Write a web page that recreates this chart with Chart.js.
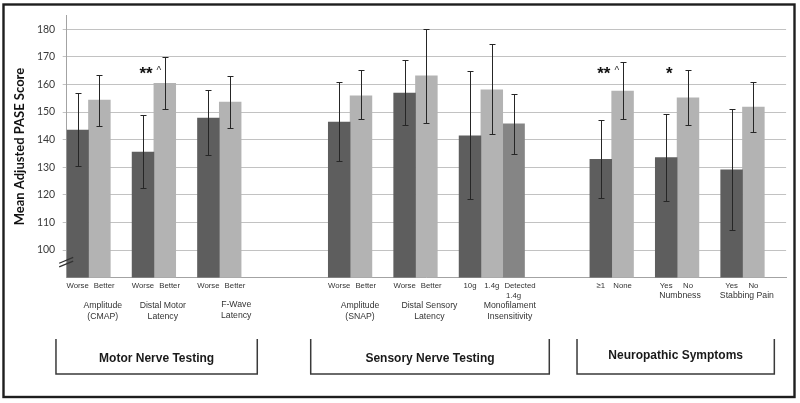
<!DOCTYPE html>
<html>
<head>
<meta charset="utf-8">
<script src="https://cdn.jsdelivr.net/npm/chart.js@4.4.0/dist/chart.umd.min.js"></script>
<style>
html,body{margin:0;padding:0;background:#fff;}
#wrap{position:relative;width:800px;height:403px;}
canvas{display:block;}
</style>
</head>
<body>
<div id="wrap"><canvas id="c" width="800" height="403"></canvas></div>
<script>
// ---------- DATA ----------
const categories = ["Amplitude (CMAP)","Distal Motor Latency","F-Wave Latency","","Amplitude (SNAP)","Distal Sensory Latency","Monofilament Insensitivity","","Symptoms","Numbness","Stabbing Pain"];

const darkValues  = [143.5,135.5,147.8,null,146.4,156.9,141.4,null,132.9,133.5,129.1];
const darkHigh    = [157.0,148.8,158.0,null,160.9,168.8,164.8,null,147.0,149.2,151.2];
const darkLow     = [130.3,122.4,134.5,null,132.1,145.2,118.4,null,119.0,117.9,107.2];

const lightValues = [154.3,160.4,153.6,null,155.9,163.1,158.1,null,157.6,155.2,151.8];
const lightHigh   = [163.4,170.0,163.2,null,165.1,180.2,174.6,null,168.0,165.2,160.8];
const lightLow    = [144.8,151.2,144.2,null,147.4,146.0,142.0,null,147.4,145.2,142.9];

const midValues   = [null,null,null,null,null,null,145.7,null,null,null,null];
const midHigh     = [null,null,null,null,null,null,156.7,null,null,null,null];
const midLow      = [null,null,null,null,null,null,134.7,null,null,null,null];

const darkLabels  = ["Worse","Worse","Worse","","Worse","Worse","10g","","≥1","Yes","Yes"];
const lightLabels = ["Better","Better","Better","","Better","Better","1.4g","","None","No","No"];
const midLabels   = [[],[],[],[],[],[],["Detected","1.4g"],[],[],[],[]];
const categoryNames = [["Amplitude","(CMAP)"],["Distal Motor","Latency"],["F-Wave","Latency"],[],["Amplitude","(SNAP)"],["Distal Sensory","Latency"],["Monofilament","Insensitivity"],[],[],["Numbness"],["Stabbing Pain"]];

const groupTitles = ["Motor Nerve Testing","Sensory Nerve Testing","Neuropathic Symptoms"];
const groupRanges = [[0,2],[4,6],[8,10]];

const yTickLabels = [100,110,120,130,140,150,160,170,180];
const yAxisTitle = "Mean Adjusted PASE Score";

const significance = [
  {cat:1, mark:"**", caret:"^"},
  {cat:8, mark:"**", caret:"^"},
  {cat:9, mark:"*",  caret:""}
];
const SIG_LEVEL = 165;   // value level at which the significance marks sit

// ---------- LAYOUT (not data) ----------
const BOX_EXTENTS = [[-0.164,2.914],[3.731,7.379],[7.803,10.82]]; // in category units
const BOX_TITLE_Y = [359,359,356];
const NAME_NUDGE = [3.4,-2,6,0,-1,3,18,0,0,-8,-6.5];
const NAME_ROW_Y = [306,306,305,306,306,306,306,306,296,296,296];

const COLORS = {dark:'#5e5e5e', light:'#b3b3b3', mid:'#858585'};

const overlay = {
  id:'overlay',
  afterDatasetsDraw(chart){
    const ctx = chart.ctx, xs = chart.scales.x, ys = chart.scales.y, ca = chart.chartArea;
    const m0 = chart.getDatasetMeta(0), m1 = chart.getDatasetMeta(1), m2 = chart.getDatasetMeta(2);
    ctx.save();
    // error bars
    ctx.strokeStyle = '#262626'; ctx.lineWidth = 1;
    [[darkHigh,darkLow,m0],[lightHigh,lightLow,m1],[midHigh,midLow,m2]].forEach(([hi,lo,meta])=>{
      hi.forEach((h,i)=>{
        if(h==null) return;
        const cx = Math.round(meta.data[i].x)+0.5;
        const yt = Math.round(ys.getPixelForValue(h))+0.5, yb = Math.round(ys.getPixelForValue(lo[i]))+0.5;
        ctx.beginPath();
        ctx.moveTo(cx,yt); ctx.lineTo(cx,yb);
        ctx.moveTo(cx-3,yt); ctx.lineTo(cx+3,yt);
        ctx.moveTo(cx-3,yb); ctx.lineTo(cx+3,yb);
        ctx.stroke();
      });
    });
    // axis break marks
    const bx = ca.left, by = ys.getPixelForValue(95.5);
    ctx.strokeStyle = '#333'; ctx.lineWidth = 1.3;
    ctx.beginPath();
    ctx.moveTo(bx-7.5, by+0.8); ctx.lineTo(bx+6.5, by-5);
    ctx.moveTo(bx-7.5, by+4.5); ctx.lineTo(bx+6.5, by-1.3);
    ctx.stroke();
    // significance marks
    const sy = ys.getPixelForValue(SIG_LEVEL);
    significance.forEach(s=>{
      const dx = m0.data[s.cat].x + 3;
      ctx.fillStyle = '#111';
      ctx.font = 'bold 17px "Liberation Sans"';
      ctx.textAlign = 'center'; ctx.textBaseline = 'middle';
      ctx.fillText(s.mark, dx, sy+4);
      const w = ctx.measureText(s.mark).width;
      if(s.caret){
        ctx.font = '10px "Liberation Sans"'; ctx.fillStyle = '#333';
        ctx.textAlign = 'left';
        ctx.fillText(s.caret, dx + w/2 + 4, sy+1);
      }
    });
    // bar labels
    ctx.fillStyle = '#333'; ctx.textBaseline = 'middle';
    ctx.font = '7.8px "Liberation Sans"';
    const catW = xs.getPixelForValue(1) - xs.getPixelForValue(0);
    for(let i=0;i<categories.length;i++){
      let lastRight = -1e9;
      if(darkLabels[i]){
        const w = ctx.measureText(darkLabels[i]).width;
        ctx.textAlign='left';
        const l = m0.data[i].x - w/2;
        ctx.fillText(darkLabels[i], l, 286);
        lastRight = l + w;
      }
      if(lightLabels[i]){
        const w = ctx.measureText(lightLabels[i]).width;
        const l = Math.max(m1.data[i].x - w/2, lastRight + 5);
        ctx.textAlign='left';
        ctx.fillText(lightLabels[i], l, 286);
        lastRight = l + w;
      }
      midLabels[i].forEach((t,k)=>{
        const w = ctx.measureText(t).width;
        let l = m2.data[i].x - w/2;
        if(k===0) l = Math.max(l, lastRight + 5);
        ctx.textAlign='left';
        ctx.fillText(t, l, 286 + k*10);
      });
    }
    // category names
    ctx.font = '8.7px "Liberation Sans"'; ctx.textAlign = 'center';
    categoryNames.forEach((lines,i)=>{
      const cx = xs.getPixelForValue(i) + NAME_NUDGE[i];
      lines.forEach((t,k)=> ctx.fillText(t, cx, NAME_ROW_Y[i] + k*11));
    });
    // group boxes
    const x0 = xs.getPixelForValue(0) - catW/2;
    ctx.strokeStyle = '#3a3a3a'; ctx.lineWidth = 1.5;
    groupTitles.forEach((title,g)=>{
      const l = x0 + BOX_EXTENTS[g][0]*catW, r = x0 + BOX_EXTENTS[g][1]*catW;
      ctx.beginPath();
      ctx.moveTo(l,339); ctx.lineTo(l,374); ctx.lineTo(r,374); ctx.lineTo(r,339);
      ctx.stroke();
      ctx.fillStyle = '#1a1a1a';
      ctx.font = 'bold 12px "Liberation Sans"';
      ctx.textAlign = 'center'; ctx.textBaseline = 'middle';
      ctx.fillText(title, (l+r)/2, BOX_TITLE_Y[g]);
    });
    // outer frame
    ctx.strokeStyle = '#1e1e1e'; ctx.lineWidth = 2.4;
    ctx.strokeRect(3.5, 4.5, 791, 392.5);
    ctx.restore();
  }
};

Chart.defaults.font.family = 'Lato';

new Chart(document.getElementById('c'), {
  type:'bar',
  data:{
    labels: categories,
    datasets:[
      {data: darkValues,  backgroundColor: COLORS.dark,  borderWidth:0},
      {data: lightValues, backgroundColor: COLORS.light, borderWidth:0},
      {data: midValues,   backgroundColor: COLORS.mid,   borderWidth:0}
    ]
  },
  options:{
    responsive:false,
    animation:false,
    devicePixelRatio:1,
    barPercentage:1,
    categoryPercentage:1,
    layout:{padding:{left:0,right:13.9,top:15.5,bottom:125.4}},
    plugins:{legend:{display:false}, tooltip:{enabled:false}},
    scales:{
      x:{
        grid:{display:false, drawTicks:false},
        border:{display:true, color:'#a3a3a3', width:1},
        ticks:{display:false}
      },
      y:{
        min:90, max:185,
        afterFit(scale){ scale.width = 66.7; },
        ticks:{
          stepSize:10, includeBounds:false, padding:7.5,
          color:'#3a3a3a', font:{size:10.5},
          callback:(v)=> yTickLabels.includes(v) ? String(v) : ''
        },
        grid:{
          tickLength:4,
          color:(c)=> (c.tick && yTickLabels.includes(c.tick.value)) ? '#c2c2c2' : 'rgba(0,0,0,0)'
        },
        border:{display:true, color:'#a3a3a3', width:1},
        title:{display:true, text:yAxisTitle, color:'#111', font:{size:13, weight:'bold'}, padding:{top:12,bottom:0}}
      }
    }
  },
  plugins:[overlay]
});
</script>
</body>
</html>
